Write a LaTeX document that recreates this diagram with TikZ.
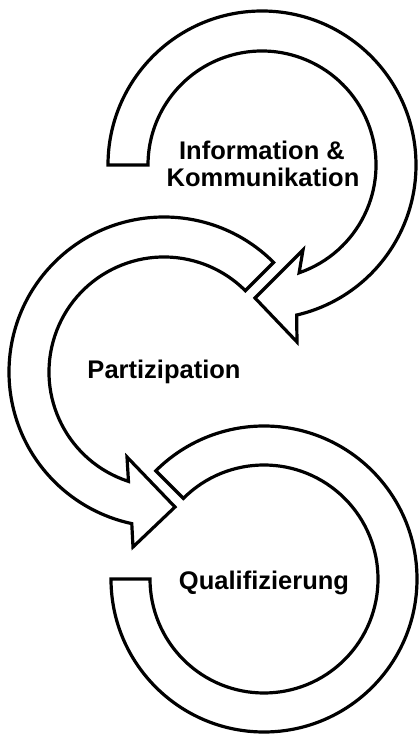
\documentclass[tikz,border=0pt]{standalone}
\usepackage{fontspec}
\setmainfont{Liberation Sans}
\usetikzlibrary{calc}
\tikzset{
  ringarrow/.style={draw=black, fill=white, line width=3.2pt, line join=miter},
  lbl/.style={anchor=base, inner sep=0pt, font=\bfseries\fontsize{25.5}{28}\selectfont}
}
\begin{document}
\begin{tikzpicture}[x=1pt,y=1pt]
\useasboundingbox (0,0) rectangle (419,734);
\coordinate (c1) at (262,569);
\coordinate (c2) at (164,362);
\coordinate (c3) at (264,155);
% top ring: Information & Kommunikation
\path[ringarrow] ($(c1)+(180:154)$) arc[start angle=180, end angle=-77, radius=154]
  -- (297,392) -- (255,436) -- (303,484) -- ($(c1)+(-71:114)$)
  arc[start angle=-71, end angle=180, radius=114] -- cycle;
% middle ring: Partizipation
\path[ringarrow] ($(c2)+(45:155)$) arc[start angle=45, end angle=258, radius=155]
  -- (133,187) -- (175,227) -- (127,277) -- ($(c2)+(252:115)$)
  arc[start angle=252, end angle=45, radius=115] -- cycle;
% bottom ring: Qualifizierung
\path[ringarrow] ($(c3)+(180:153)$) arc[start angle=180, end angle=495, radius=153]
  -- ($(c3)+(135:114)$) arc[start angle=495, end angle=180, radius=114] -- cycle;
% labels
\node[lbl] (info1) at (262,574) {Information \&};
\node[lbl] (info2) at (263,547) {Kommunikation};
\node[lbl] (part) at (164,355) {Partizipation};
\node[lbl] (qual) at (264,144) {Qualifizierung};
\end{tikzpicture}
\end{document}
